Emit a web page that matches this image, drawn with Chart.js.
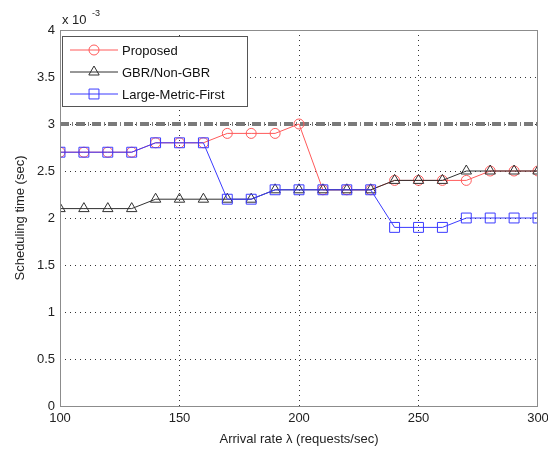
<!DOCTYPE html>
<html>
<head>
<meta charset="utf-8">
<script src="https://cdn.jsdelivr.net/npm/chart.js@4"></script>
<style>
  html, body { margin: 0; padding: 0; background: #fff; }
  #wrap { width: 548px; height: 455px; }
</style>
</head>
<body>
<div id="wrap"><canvas id="chart"></canvas></div>
<script>
// arrival rate (requests/sec)
const rates = [100, 110, 120, 130, 140, 150, 160, 170, 180, 190, 200,
               210, 220, 230, 240, 250, 260, 270, 280, 290, 300]
// scheduling time, in units of 10^-3 sec
const proposed = [2.7, 2.7, 2.7, 2.7, 2.8, 2.8, 2.8, 2.9, 2.9, 2.9, 3.0,
                  2.3, 2.3, 2.3, 2.4, 2.4, 2.4, 2.4, 2.5, 2.5, 2.5]
const gbr = [2.1, 2.1, 2.1, 2.1, 2.2, 2.2, 2.2, 2.2, 2.2, 2.3, 2.3,
             2.3, 2.3, 2.3, 2.4, 2.4, 2.4, 2.5, 2.5, 2.5, 2.5]
const largeMetric = [2.7, 2.7, 2.7, 2.7, 2.8, 2.8, 2.8, 2.2, 2.2, 2.3, 2.3,
                     2.3, 2.3, 2.3, 1.9, 1.9, 1.9, 2.0, 2.0, 2.0, 2.0]
const limit = 3.0
const xTicks = [100, 150, 200, 250, 300]
const yTicks = [0, 0.5, 1, 1.5, 2, 2.5, 3, 3.5, 4]

const FONT = "'Liberation Sans', Arial, sans-serif"

const toPts = (ys) => rates.map((x, i) => ({ x: x, y: ys[i] }))

const series = [
  { label: "Proposed", data: proposed, color: "#ff5a5a", style: "circle", r: 5 },
  { label: "GBR/Non-GBR", data: gbr, color: "#303030", style: "triangle", r: 6 },
  { label: "Large-Metric-First", data: largeMetric, color: "#3b3bff", style: "rect", r: 7 },
]

// box, legend and the exponent label, MATLAB style
const extras = {
  id: "extras",
  afterDraw(chart) {
    const { ctx, chartArea: a } = chart
    ctx.save()
    ctx.strokeStyle = "#8c8c8c"
    ctx.lineWidth = 1
    ctx.strokeRect(a.left + 0.5, a.top + 0.5, a.right - a.left - 1, a.bottom - a.top)

    // exponent
    ctx.fillStyle = "#222"
    ctx.font = "13px " + FONT
    ctx.textBaseline = "alphabetic"
    ctx.textAlign = "left"
    ctx.fillText("x 10", 62, 24)
    ctx.font = "9px " + FONT
    ctx.fillText("-3", 92, 16)

    // legend
    const lx = a.left + 2, ly = a.top + 6, lw = 185, lh = 70
    ctx.fillStyle = "#fff"
    ctx.fillRect(lx, ly, lw, lh)
    ctx.strokeStyle = "#555"
    ctx.strokeRect(lx + 0.5, ly + 0.5, lw, lh)
    series.forEach((s, i) => {
      const y = ly + 14 + i * 22
      ctx.strokeStyle = s.color
      ctx.lineWidth = 1
      ctx.beginPath()
      ctx.moveTo(lx + 8, y)
      ctx.lineTo(lx + 56, y)
      ctx.stroke()
      ctx.fillStyle = "rgba(0,0,0,0)"
      Chart.helpers.drawPoint(ctx, { pointStyle: s.style, radius: s.r, borderWidth: 1, rotation: 0 }, lx + 32, y)
      ctx.fillStyle = "#111"
      ctx.font = "13px " + FONT
      ctx.textBaseline = "middle"
      ctx.fillText(s.label, lx + 60, y + 1)
    })
    ctx.restore()
  },
}

const datasets = series.map((s, i) => ({
  label: s.label,
  data: toPts(s.data),
  borderColor: s.color,
  borderWidth: 1,
  pointStyle: s.style,
  pointRadius: s.r,
  pointBorderColor: s.color,
  pointBackgroundColor: "rgba(0,0,0,0)",
  pointBorderWidth: 1,
  fill: false,
  tension: 0,
  order: 3 - i,
}))

datasets.push({
  label: "limit",
  data: [{ x: rates[0], y: limit }, { x: rates[rates.length - 1], y: limit }],
  borderColor: "#7a7a7a",
  borderWidth: 4,
  borderDash: [9, 3, 1, 3],
  pointRadius: 0,
  fill: false,
  order: 4,
})

const ctx = document.getElementById("chart").getContext("2d")
new Chart(ctx, {
  type: "line",
  data: { datasets: datasets },
  options: {
    responsive: true,
    maintainAspectRatio: false,
    animation: false,
    layout: { padding: { left: 0, right: 0, top: 30, bottom: 0 } },
    plugins: {
      legend: { display: false },
      tooltip: { enabled: false },
    },
    scales: {
      x: {
        type: "linear",
        min: 100,
        max: 300,
        afterBuildTicks: (axis) => { axis.ticks = xTicks.map((v) => ({ value: v })) },
        afterFit: (axis) => { axis.height = 49; axis.paddingRight = 10; axis.paddingLeft = 0 },
        ticks: { color: "#222", font: { family: FONT, size: 13 }, padding: 5, maxRotation: 0 },
        grid: { color: "#333", drawTicks: false, lineWidth: (c) => (c.index === 0 || c.index === xTicks.length - 1 ? 0 : 1) },
        border: { display: false, dash: [1, 4] },
        title: { display: true, text: "Arrival rate λ (requests/sec)", color: "#222", font: { family: FONT, size: 13 }, padding: { top: 4, bottom: 8 } },
      },
      y: {
        min: 0,
        max: 4,
        afterBuildTicks: (axis) => { axis.ticks = yTicks.map((v) => ({ value: v })) },
        ticks: { color: "#222", font: { family: FONT, size: 13 }, padding: 5, callback: (v) => String(v) },
        afterFit: (axis) => { axis.width = 60; axis.paddingTop = 0; axis.paddingBottom = 0 },
        grid: { color: "#333", drawTicks: false, lineWidth: (c) => (c.index === 0 || c.index === yTicks.length - 1 ? 0 : 1) },
        border: { display: false, dash: [1, 4] },
        title: { display: true, text: "Scheduling time (sec)", color: "#222", font: { family: FONT, size: 13 }, padding: { top: 13, bottom: 6 } },
      },
    },
  },
  plugins: [extras],
})
</script>
</body>
</html>
